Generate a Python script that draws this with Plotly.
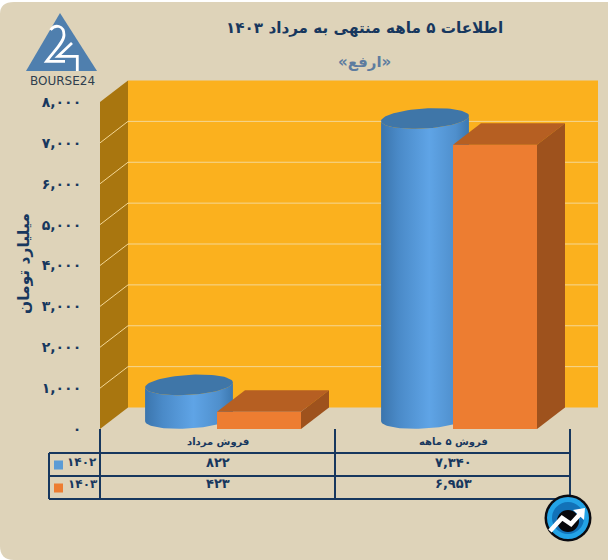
import numpy as np
import plotly.graph_objects as go

categories = ["فروش مرداد", "فروش ۵ ماهه"]
series_names = ["۱۴۰۲", "۱۴۰۳"]
values_1402 = [822, 7340]
values_1403 = [423, 6953]
tick_values = [0, 1000, 2000, 3000, 4000, 5000, 6000, 7000, 8000]

FONT = "DejaVu Sans"
NAVY = "#17375E"
BG = "#DED3B9"
W, H = 608, 560
L, R, T, B = 100, 598, 80, 429
PX_PER_UNIT = (B - 102) / 8000
XU = 2 / 470                # data units per pixel (two categories span 470 px)
YU = 1 / PX_PER_UNIT
DX, DY = 28 * XU, 21.5 * YU  # 3-D depth offset


def fa(n):
    return f"{n:,}".translate(str.maketrans("0123456789", "۰۱۲۳۴۵۶۷۸۹"))


def poly(xs, ys, color=None, **kw):
    d = dict(x=list(xs) + [xs[0]], y=list(ys) + [ys[0]], mode="lines", fill="toself",
             line=dict(width=0), hoverinfo="skip", showlegend=False)
    if color:
        d["fillcolor"] = color
    d.update(kw)
    return go.Scatter(**d)


def box(cat, offset_px, width_px, v, front, top, side):
    x0 = cat + offset_px * XU
    x1 = x0 + width_px * XU
    return [
        poly([x0, x1, x1, x0], [0, 0, v, v], front),
        poly([x0, x1, x1 + DX, x0 + DX], [v, v, v + DY, v + DY], top),
        poly([x1, x1 + DX, x1 + DX, x1], [0, DY, v + DY, v], side),
    ]


def cylinder(cat, center_px, v):
    a = 44
    b = 10
    tilt = np.deg2rad(-3.5)
    t = np.linspace(0, 2 * np.pi, 81)
    ex = a * np.cos(t) * np.cos(tilt) - b * np.sin(t) * np.sin(tilt)
    ey = a * np.cos(t) * np.sin(tilt) + b * np.sin(t) * np.cos(tilt)
    cx = cat + center_px * XU
    base = 10.5 * YU
    lower = np.where(np.sin(t) >= 0)[0]
    lo = lower[np.argsort(ex[lower])]
    xs_low = cx + ex[lo] * XU
    ys_low = base - ey[lo] * YU
    body_x = list(xs_low) + list(xs_low[::-1])
    body_y = list(ys_low) + list(base + v - ey[lo][::-1] * YU)
    body = poly(body_x, body_y,
                fillgradient=dict(type="horizontal",
                                  colorscale=[[0, "#3B75AD"], [0.2, "#4A8AC8"], [0.55, "#5FA4E6"],
                                              [0.85, "#4F8FCC"], [1, "#3C78B0"]]))
    top = poly(list(cx + ex * XU), list(base + v - ey * YU), "#3F76A8")
    return [body, top]


fig = go.Figure()

# side wall and back wall
wall_top = tick_values[-1]
right_x = 2 + DX
fig.add_trace(poly([0, DX, DX, 0], [0, DY, wall_top + DY, wall_top], "#A9760F"))
fig.add_trace(poly([DX, right_x, right_x, DX], [DY, DY, wall_top + DY, wall_top + DY], "#FBB11E"))
for v in tick_values[1:-1]:
    fig.add_trace(go.Scatter(x=[0, DX, right_x], y=[v, v + DY, v + DY], mode="lines",
                             line=dict(color="#F4D794", width=1), hoverinfo="skip", showlegend=False))

for i in range(2):
    fig.add_traces(cylinder(i, 89 if i == 0 else 90, values_1402[i]))
    fig.add_traces(box(i, 117 if i == 0 else 118, 84, values_1403[i], "#ED7D31", "#B65F22", "#9E521D"))


def px(x, y):
    return (x - L) / (R - L), (B - y) / (B - T)


shapes = []


def seg(x0, y0, x1, y1, width=2):
    a, b = px(x0, y0)
    c, d = px(x1, y1)
    shapes.append(dict(type="line", xref="paper", yref="paper", x0=a, y0=b, x1=c, y1=d,
                       line=dict(color=NAVY, width=width)))


def path_str(cmds):
    out = []
    for c in cmds:
        if isinstance(c, str):
            out.append(c)
        else:
            a, b = px(*c)
            out.append(f"{a:.5f},{b:.5f}")
    return " ".join(out)


def path(cmds, fill=None, line=None, lw=0, layer="above"):
    shapes.append(dict(type="path", xref="paper", yref="paper", path=path_str(cmds), layer=layer,
                       fillcolor=fill or "rgba(0,0,0,0)", line=dict(color=line or "rgba(0,0,0,0)", width=lw)))


def circle(cx, cy, r, fill):
    a, b = px(cx - r, cy + r)
    c, d = px(cx + r, cy - r)
    shapes.append(dict(type="circle", xref="paper", yref="paper", x0=a, y0=b, x1=c, y1=d,
                       fillcolor=fill, line=dict(width=0)))


# card background
path(["M", (0, 14), "Q", (0, 2), (14, 2), "L", (608, 2), "L", (608, 560), "L", (14, 560),
      "Q", (0, 560), (0, 546), "Z"], fill=BG, layer="below")

# data table rules
for y in (453, 476, 499):
    seg(49, y, 570, y)
seg(49, 453, 49, 499)
for x in (100, 335, 570):
    seg(x, 429, x, 499)

# legend keys
for y, c in ((465, "#5B9BD5"), (488, "#ED7D31")):
    a, b = px(54, y - 4.5)
    c2, d = px(63, y + 4.5)
    shapes.append(dict(type="rect", xref="paper", yref="paper", x0=a, y0=b, x1=c2, y1=d,
                       fillcolor=c, line=dict(width=0)))

# logo
path(["M", (60, 13), "L", (97, 71), "L", (26, 71), "Z"], fill="#4F7FAE")
path(["M", (50.5, 30), "C", (55, 24), (64, 25), (64, 35), "C", (64, 42), (55, 50), (46.5, 61.3),
      "L", (65, 61.3)], line="white", lw=2.8)
path(["M", (72, 43), "L", (58, 56.3), "L", (77.3, 56.3), "L", (77.3, 71)], line="white", lw=2.8)

# corner badge
circle(568, 518, 23.5, "#0B0B10")
circle(568, 518, 21, "#23A3E6")
circle(568, 518, 16, "#1272B8")
circle(568, 521, 11, "#08080C")
path(["M", (550, 531), "L", (562, 518), "L", (571, 524), "L", (581, 513)], line="white", lw=4.5)
path(["M", (585, 508), "L", (573, 510), "L", (584, 520), "Z"], fill="white")

anns = []


def text(x, y, s, size, color=NAVY, angle=0, anchor="center", family=FONT):
    a, b = px(x, y)
    anns.append(dict(xref="paper", yref="paper", x=a, y=b, text=s, showarrow=False, textangle=angle,
                     xanchor=anchor, yanchor="middle", font=dict(family=family, size=size, color=color)))


text(364, 28, "<b>اطلاعات ۵ ماهه منتهی به مرداد ۱۴۰۳</b>", 15.2)
text(364, 62, "<b>«ارفع»</b>", 15, color="#5D7C9F")
text(24, 264, "<b>میلیارد تومان</b>", 15.5, angle=-90)
text(62, 81, "BOURSE24", 12, color="#2F3E4E")
centers = [218, 453]
for i in range(2):
    text(centers[i], 442, "<b>" + categories[i] + "</b>", 10)
    text(centers[i], 462, "<b>" + fa(values_1402[i]) + "</b>", 13)
    text(centers[i], 484, "<b>" + fa(values_1403[i]) + "</b>", 13)
text(82, 462, "<b>" + series_names[0] + "</b>", 12)
text(83, 484, "<b>" + series_names[1] + "</b>", 12)

fig.update_layout(
    width=W, height=H, margin=dict(l=L, r=W - R, t=T, b=H - B, pad=0),
    paper_bgcolor="white", plot_bgcolor="rgba(0,0,0,0)",
    showlegend=False, shapes=shapes, annotations=anns,
    xaxis=dict(range=[0, (R - L) * XU], showgrid=False, zeroline=False, showticklabels=False, showline=False, fixedrange=True),
    yaxis=dict(range=[0, (B - T) * YU], showgrid=False, zeroline=False, showline=False, fixedrange=True,
               tickmode="array", tickvals=tick_values, ticktext=[fa(v) for v in tick_values],
               ticks="outside", ticklen=15, tickcolor="rgba(0,0,0,0)",
               tickfont=dict(family=FONT, size=14, color=NAVY, weight="bold")),
)

fig.write_html("out.html", config={"displayModeBar": False},
               post_script="document.body.style.margin='0';document.documentElement.style.overflow='hidden';")
